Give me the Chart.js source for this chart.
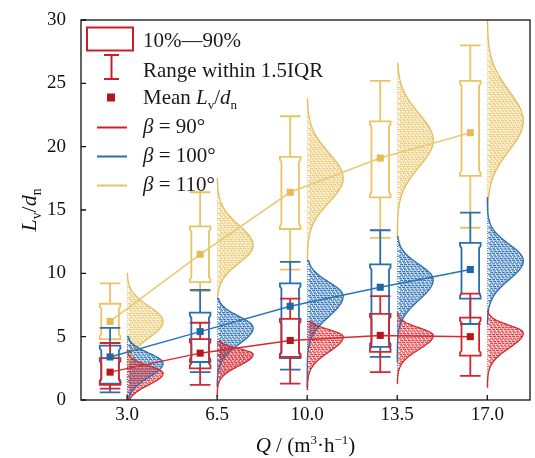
<!DOCTYPE html>
<html>
<head>
<meta charset="utf-8">
<script src="https://cdn.jsdelivr.net/npm/chart.js@4.4.1/dist/chart.umd.min.js"></script>
<style>
html, body { margin: 0; padding: 0; background: #fff; }
canvas { display: block; }
</style>
</head>
<body>
<canvas id="myChart" width="535" height="458"></canvas>
<script>
// flow rate categories and axis ticks
var flowRates = [3.0, 6.5, 10.0, 13.5, 17.0];
var yTicks = [0, 5, 10, 15, 20, 25, 30];

// beta = 90 deg
var mean90 = [2.2, 3.7, 4.7, 5.1, 5.0];
var p10_90 = [1.2, 2.5, 3.4, 3.8, 3.5];
var p90_90 = [3.3, 4.8, 6.4, 6.8, 6.5];
var wLow90 = [0.9, 1.2, 1.3, 2.2, 1.9];
var wHigh90 = [4.5, 6.1, 8.0, 8.2, 8.4];
// half violin: peak, spread above / below, lower and upper end
var peak90 = [2.1, 3.6, 5.0, 5.1, 5.3];
var sdUp90 = [0.6, 0.45, 0.55, 0.6, 0.6];
var sdDn90 = [0.9, 0.9, 1.2, 1.1, 1.2];
var lo90 = [0.0, 0.3, 0.8, 1.3, 1.0];
var hi90 = [3.9, 4.6, 6.2, 6.9, 7.1];

// beta = 100 deg
var mean100 = [3.4, 5.4, 7.4, 8.9, 10.3];
var p10_100 = [1.3, 3.0, 3.3, 4.2, 8.0];
var p90_100 = [4.3, 6.9, 9.2, 10.7, 12.4];
var wLow100 = [0.6, 2.2, 2.4, 3.4, 6.0];
var wHigh100 = [5.7, 8.7, 10.9, 13.4, 14.8];
var peak100 = [2.9, 5.7, 8.2, 9.5, 11.0];
var sdUp100 = [0.8, 0.9, 1.1, 1.2, 1.3];
var sdDn100 = [1.1, 1.3, 1.6, 1.6, 1.5];
var lo100 = [0.0, 1.0, 1.0, 3.0, 6.0];
var hi100 = [5.0, 8.0, 11.0, 12.9, 16.0];

// beta = 110 deg
var mean110 = [6.2, 11.5, 16.4, 19.1, 21.1];
var p10_110 = [4.8, 9.3, 13.5, 16.0, 17.7];
var p90_110 = [7.6, 13.7, 19.2, 22.0, 25.2];
var wLow110 = [4.5, 8.6, 10.3, 12.8, 13.6];
var wHigh110 = [9.2, 16.4, 22.4, 25.2, 28.0];
var peak110 = [6.2, 12.2, 17.5, 20.5, 22.0];
var sdUp110 = [1.2, 1.6, 2.0, 2.1, 2.4];
var sdDn110 = [1.3, 1.4, 1.9, 2.1, 2.3];
var lo110 = [2.5, 8.0, 11.0, 12.8, 15.0];
var hi110 = [10.0, 17.5, 23.8, 26.6, 32.0];

var FONT = "'Liberation Serif', 'Times New Roman', serif";
var BOX_SHIFT = -0.66;   // box sits left of the category tick
var BOX_W = 0.8;
var VIOLIN_W = 1.4;

// drawn back to front: 110, 100, 90
var series = [
  { label: '110', mean: mean110, p10: p10_110, p90: p90_110, wLow: wLow110, wHigh: wHigh110,
    peak: peak110, sdUp: sdUp110, sdDn: sdDn110, lo: lo110, hi: hi110,
    line: '#ebc872', dark: '#e6bb55', box: '#e8c464', fill: 'rgba(234,196,100,0.9)', edge: '#e4bd5c' },
  { label: '100', mean: mean100, p10: p10_100, p90: p90_100, wLow: wLow100, wHigh: wHigh100,
    peak: peak100, sdUp: sdUp100, sdDn: sdDn100, lo: lo100, hi: hi100,
    line: '#2a73b8', dark: '#1d66a8', box: '#2a6db0', fill: 'rgba(36,106,176,0.92)', edge: '#2a6fb2' },
  { label: '90', mean: mean90, p10: p10_90, p90: p90_90, wLow: wLow90, wHigh: wHigh90,
    peak: peak90, sdUp: sdUp90, sdDn: sdDn90, lo: lo90, hi: hi90,
    line: '#d9282f', dark: '#b8141e', box: '#d3262e', fill: 'rgba(220,44,50,0.92)', edge: '#d42a2f' }
];

function violinShape(v, s, i) {
  var sd = v > s.peak[i] ? s.sdUp[i] : s.sdDn[i];
  var z = (v - s.peak[i]) / sd;
  return Math.exp(-0.5 * z * z);
}

function drawBox(ctx, cx, top, bottom, hw, color) {
  var f = 3, ind = 1.5;
  ctx.beginPath();
  ctx.moveTo(cx - hw, top);
  ctx.lineTo(cx + hw, top);
  ctx.lineTo(cx + hw, top + f);
  ctx.lineTo(cx + hw - ind, top + f + 2);
  ctx.lineTo(cx + hw - ind, bottom - f - 2);
  ctx.lineTo(cx + hw, bottom - f);
  ctx.lineTo(cx + hw, bottom);
  ctx.lineTo(cx - hw, bottom);
  ctx.lineTo(cx - hw, bottom - f);
  ctx.lineTo(cx - hw + ind, bottom - f - 2);
  ctx.lineTo(cx - hw + ind, top + f + 2);
  ctx.lineTo(cx - hw, top + f);
  ctx.closePath();
  ctx.strokeStyle = color;
  ctx.lineWidth = 1.8;
  ctx.stroke();
}

// text with italic / sub / superscript pieces
function richWidth(ctx, parts, size) {
  var w = 0;
  parts.forEach(function (p) {
    var fs = (p.sub || p.sup) ? size * 0.62 : size;
    ctx.font = (p.it ? 'italic ' : '') + fs + 'px ' + FONT;
    w += ctx.measureText(p.t).width;
  });
  return w;
}
function drawRich(ctx, parts, x, y, size, align) {
  var w = richWidth(ctx, parts, size);
  var cx = align === 'center' ? x - w / 2 : x;
  ctx.textBaseline = 'alphabetic';
  ctx.textAlign = 'left';
  parts.forEach(function (p) {
    var fs = (p.sub || p.sup) ? size * 0.62 : size;
    ctx.font = (p.it ? 'italic ' : '') + fs + 'px ' + FONT;
    var dy = p.sub ? size * 0.22 : (p.sup ? -size * 0.38 : 0);
    ctx.fillText(p.t, cx, y + dy);
    cx += ctx.measureText(p.t).width;
  });
}

var boxViolinPlugin = {
  id: 'boxViolin',
  beforeDatasetsDraw: function (chart) {
    var ctx = chart.ctx, xs = chart.scales.x, ys = chart.scales.y, a = chart.chartArea;
    ctx.save();
    ctx.beginPath();
    ctx.rect(a.left, a.top, a.right - a.left, a.bottom - a.top);
    ctx.clip();

    // violin fills: rows of short dashes
    series.forEach(function (s) {
      flowRates.forEach(function (q, i) {
        var x0 = xs.getPixelForValue(q);
        var wpx = xs.getPixelForValue(q + VIOLIN_W) - x0;
        ctx.strokeStyle = s.fill;
        ctx.lineWidth = 1.3;
        ctx.setLineDash([3, 0.8]);
        ctx.beginPath();
        var row = 0;
        for (var py = ys.getPixelForValue(s.hi[i]); py <= ys.getPixelForValue(s.lo[i]); py += 1.75) {
          var w = violinShape(ys.getValueForPixel(py), s, i) * wpx;
          row++;
          if (w < 1.5) continue;
          ctx.moveTo(x0 + 1 + (row % 3), py);
          ctx.lineTo(x0 + w, py);
        }
        ctx.stroke();
        ctx.setLineDash([]);
      });
    });

    // violin outlines
    series.forEach(function (s) {
      flowRates.forEach(function (q, i) {
        var x0 = xs.getPixelForValue(q);
        var wpx = xs.getPixelForValue(q + VIOLIN_W) - x0;
        ctx.strokeStyle = s.edge;
        ctx.lineWidth = 1.3;
        ctx.beginPath();
        ctx.moveTo(x0, ys.getPixelForValue(s.lo[i]));
        var n = 60;
        for (var k = 0; k <= n; k++) {
          var v = s.lo[i] + (s.hi[i] - s.lo[i]) * k / n;
          ctx.lineTo(x0 + violinShape(v, s, i) * wpx, ys.getPixelForValue(v));
        }
        ctx.lineTo(x0, ys.getPixelForValue(s.hi[i]));
        ctx.stroke();
        ctx.setLineDash([1, 1.5]);
        ctx.beginPath();
        ctx.moveTo(x0 + 0.5, ys.getPixelForValue(s.lo[i]));
        ctx.lineTo(x0 + 0.5, ys.getPixelForValue(s.hi[i]));
        ctx.stroke();
        ctx.setLineDash([]);
      });
    });

    // boxes and whiskers
    series.forEach(function (s) {
      flowRates.forEach(function (q, i) {
        var cx = xs.getPixelForValue(q + BOX_SHIFT);
        var hw = (xs.getPixelForValue(q + BOX_W / 2) - xs.getPixelForValue(q)) ;
        var top = ys.getPixelForValue(s.p90[i]), bot = ys.getPixelForValue(s.p10[i]);
        var wh = ys.getPixelForValue(s.wHigh[i]), wl = ys.getPixelForValue(s.wLow[i]);
        ctx.strokeStyle = s.box;
        ctx.lineWidth = 1.8;
        ctx.beginPath();
        ctx.moveTo(cx, top); ctx.lineTo(cx, wh);
        ctx.moveTo(cx - hw, wh); ctx.lineTo(cx + hw, wh);
        ctx.moveTo(cx, bot); ctx.lineTo(cx, wl);
        ctx.moveTo(cx - hw, wl); ctx.lineTo(cx + hw, wl);
        ctx.stroke();
        drawBox(ctx, cx, top, bot, hw, s.box);
      });
    });
    ctx.restore();
  },
  afterDraw: function (chart) {
    var ctx = chart.ctx, xs = chart.scales.x, ys = chart.scales.y, a = chart.chartArea;
    ctx.save();
    // frame and inward ticks
    ctx.strokeStyle = '#111';
    ctx.lineWidth = 1.3;
    ctx.strokeRect(a.left, a.top, a.right - a.left, a.bottom - a.top);
    ctx.beginPath();
    yTicks.forEach(function (v) {
      var y = ys.getPixelForValue(v);
      ctx.moveTo(a.left, y); ctx.lineTo(a.left + 5, y);
    });
    flowRates.forEach(function (q) {
      var x = xs.getPixelForValue(q);
      ctx.moveTo(x, a.bottom); ctx.lineTo(x, a.bottom - 5);
    });
    ctx.stroke();

    ctx.fillStyle = '#111';
    // x title
    drawRich(ctx, [{ t: 'Q', it: true }, { t: ' / (m' }, { t: '3', sup: true }, { t: '·h' },
      { t: '\u22121', sup: true }, { t: ')' }], (a.left + a.right) / 2, 452, 21, 'center');
    // y title
    ctx.save();
    ctx.translate(36, (a.top + a.bottom) / 2);
    ctx.rotate(-Math.PI / 2);
    drawRich(ctx, [{ t: 'L', it: true }, { t: 'v', sub: true }, { t: '/' }, { t: 'd', it: true },
      { t: 'n', sub: true }], 0, 0, 22, 'center');
    ctx.restore();

    // legend
    var red = '#c8202a';
    ctx.lineWidth = 2;
    ctx.strokeStyle = red;
    ctx.strokeRect(87, 27.5, 46, 23);
    ctx.beginPath();
    ctx.moveTo(104, 55); ctx.lineTo(119, 55);
    ctx.moveTo(111.5, 55); ctx.lineTo(111.5, 79);
    ctx.moveTo(104, 79); ctx.lineTo(119, 79);
    ctx.stroke();
    ctx.fillStyle = '#b8141e';
    ctx.fillRect(107, 93.5, 8, 8);
    var lineCols = ['#c8202a', '#2b6fa8', '#e6c46d'];
    var lineY = [127.5, 156.5, 185.5];
    lineCols.forEach(function (c, k) {
      ctx.strokeStyle = c;
      ctx.beginPath();
      ctx.moveTo(97, lineY[k]); ctx.lineTo(127, lineY[k]);
      ctx.stroke();
    });
    ctx.fillStyle = '#1a1a1a';
    drawRich(ctx, [{ t: '10%\u201490%' }], 143, 47, 21, 'left');
    drawRich(ctx, [{ t: 'Range within 1.5IQR' }], 143, 76.5, 21, 'left');
    drawRich(ctx, [{ t: 'Mean ' }, { t: 'L', it: true }, { t: 'v', sub: true }, { t: '/' },
      { t: 'd', it: true }, { t: 'n', sub: true }], 143, 104, 21, 'left');
    drawRich(ctx, [{ t: '\u03b2', it: true }, { t: ' = 90°' }], 143, 133, 21, 'left');
    drawRich(ctx, [{ t: '\u03b2', it: true }, { t: ' = 100°' }], 143, 162, 21, 'left');
    drawRich(ctx, [{ t: '\u03b2', it: true }, { t: ' = 110°' }], 143, 191, 21, 'left');
    ctx.restore();
  }
};

var ctx = document.getElementById('myChart').getContext('2d');
var chart = new Chart(ctx, {
  type: 'scatter',
  data: {
    datasets: series.map(function (s) {
      return {
        label: s.label,
        data: flowRates.map(function (q, i) { return { x: q + BOX_SHIFT, y: s.mean[i] }; }),
        showLine: true,
        borderColor: s.line,
        borderWidth: 1.5,
        pointStyle: 'rect',
        pointRadius: 5,
        pointHoverRadius: 5,
        pointBackgroundColor: s.dark,
        pointBorderWidth: 0
      };
    })
  },
  options: {
    responsive: false,
    animation: false,
    devicePixelRatio: 1,
    layout: { padding: { top: 20, right: 2, left: 0, bottom: 0 } },
    plugins: { legend: { display: false }, tooltip: { enabled: false } },
    scales: {
      x: {
        type: 'linear',
        min: 1.21,
        max: 18.66,
        afterBuildTicks: function (s) { s.ticks = flowRates.map(function (v) { return { value: v }; }); },
        afterFit: function (s) { s.height = 58; },
        grid: { display: false },
        border: { display: false },
        ticks: {
          callback: function (v) { return v.toFixed(1); },
          font: { family: FONT, size: 19 },
          color: '#111',
          padding: -4,
          maxRotation: 0,
          autoSkip: false
        }
      },
      y: {
        min: 0,
        max: 30,
        afterBuildTicks: function (s) { s.ticks = yTicks.map(function (v) { return { value: v }; }); },
        afterFit: function (s) { s.width = 81; },
        grid: { display: false },
        border: { display: false },
        ticks: {
          font: { family: FONT, size: 19 },
          color: '#111',
          padding: 7
        }
      }
    }
  },
  plugins: [boxViolinPlugin]
});
</script>
</body>
</html>
